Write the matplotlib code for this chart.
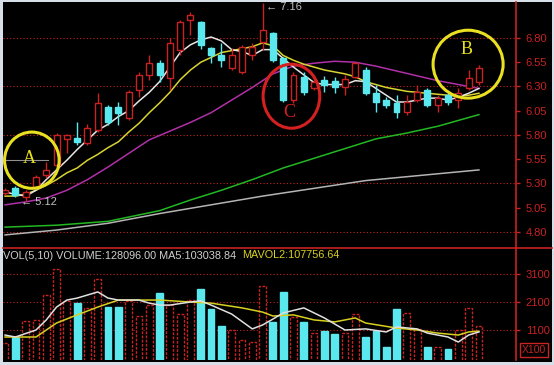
import numpy as np
import matplotlib.pyplot as plt
from matplotlib.patches import Rectangle, Ellipse
from matplotlib.lines import Line2D

plt.rcParams['font.family'] = ['Liberation Sans', 'DejaVu Sans']

# ---- candle data (47 sessions) ----
opens  = [5.20, 5.25, 5.16, 5.26, 5.39, 5.49, 5.76, 5.77, 5.72, 5.85,
          6.09, 6.09, 5.98, 6.26, 6.42, 6.54, 6.39, 6.68, 6.99, 6.96,
          6.70, 6.62, 6.49, 6.45, 6.62, 6.76, 6.85, 6.59, 6.16, 6.40,
          6.28, 6.37, 6.36, 6.29, 6.40, 6.47, 6.23, 6.16, 6.13, 6.04,
          6.16, 6.26, 6.11, 6.21, 6.16, 6.28, 6.35]
highs  = [5.25, 5.27, 5.23, 5.39, 5.52, 5.82, 5.81, 5.93, 5.91, 6.23,
          6.11, 6.14, 6.26, 6.45, 6.62, 6.57, 6.80, 6.99, 7.07, 6.98,
          6.71, 6.75, 6.70, 6.73, 6.75, 7.16, 6.86, 6.60, 6.45, 6.45,
          6.37, 6.41, 6.40, 6.42, 6.55, 6.50, 6.32, 6.19, 6.21, 6.21,
          6.32, 6.28, 6.21, 6.23, 6.28, 6.47, 6.52]
lows   = [5.18, 5.16, 5.12, 5.24, 5.36, 5.47, 5.61, 5.70, 5.70, 5.83,
          5.90, 5.90, 5.95, 6.19, 6.37, 6.35, 6.26, 6.62, 6.83, 6.69,
          6.54, 6.50, 6.47, 6.43, 6.57, 6.68, 6.55, 6.14, 6.13, 6.21,
          6.26, 6.24, 6.23, 6.21, 6.39, 6.21, 6.04, 6.08, 5.98, 6.01,
          6.14, 6.09, 6.04, 6.11, 6.08, 6.26, 6.32]
closes = [5.23, 5.18, 5.21, 5.37, 5.44, 5.80, 5.80, 5.73, 5.87, 6.13,
          5.93, 6.03, 6.24, 6.42, 6.54, 6.42, 6.75, 6.96, 7.04, 6.73,
          6.62, 6.57, 6.62, 6.71, 6.71, 6.88, 6.57, 6.16, 6.42, 6.24,
          6.35, 6.32, 6.29, 6.38, 6.54, 6.23, 6.14, 6.11, 6.04, 6.14,
          6.24, 6.11, 6.18, 6.14, 6.23, 6.39, 6.49]
# volume in hundreds of shares
volume = [640, 850, 1420, 1460, 2350, 3280, 2140, 2060, 1890, 2920,
          1920, 1920, 2140, 1600, 1990, 2420, 1990, 1670, 2170, 2560,
          1850, 1240, 1100, 740, 670, 2670, 1390, 2460, 1560, 1390,
          990, 1060, 960, 990, 1670, 850, 1060, 490, 1850, 1710,
          1140, 490, 490, 420, 1100, 1890, 1240]

# ---- moving average lines ----
ma5 = [5.21, 5.19, 5.17, 5.23, 5.34, 5.44, 5.54, 5.65, 5.75, 5.85,
       5.91, 5.99, 6.05, 6.15, 6.24, 6.35, 6.50, 6.65, 6.73, 6.78,
       6.81, 6.77, 6.68, 6.66, 6.62, 6.68, 6.68, 6.59, 6.50, 6.42,
       6.34, 6.32, 6.32, 6.32, 6.36, 6.35, 6.28, 6.21, 6.14, 6.14,
       6.16, 6.18, 6.18, 6.16, 6.19, 6.23, 6.28]
ma10 = [5.17, 5.17, 5.19, 5.23, 5.28, 5.34, 5.41, 5.46, 5.54, 5.60,
        5.67, 5.73, 5.83, 5.92, 6.03, 6.13, 6.24, 6.37, 6.47, 6.55,
        6.60, 6.65, 6.67, 6.69, 6.71, 6.75, 6.72, 6.62, 6.57, 6.53,
        6.50, 6.47, 6.45, 6.43, 6.40, 6.35, 6.32, 6.29, 6.27, 6.25,
        6.24, 6.23, 6.22, 6.21, 6.20, 6.21, 6.23]
ma20_x = [0, 2, 4, 6, 8, 10, 12, 14, 16, 18, 20, 22, 24, 26, 28, 30,
          32, 34, 36, 38, 40, 42, 44, 46]
ma20 = [5.08, 5.11, 5.15, 5.23, 5.34, 5.47, 5.61, 5.75, 5.84, 5.93,
        6.03, 6.16, 6.29, 6.43, 6.51, 6.54, 6.56, 6.55, 6.51, 6.46,
        6.41, 6.36, 6.32, 6.28]
ma60_x = [0, 5, 10, 15, 18, 21, 24, 27, 30, 33, 36, 39, 42, 46]
ma60 = [4.85, 4.87, 4.91, 5.02, 5.13, 5.23, 5.34, 5.46, 5.56, 5.66,
        5.76, 5.82, 5.89, 6.01]
ma120_x = [0, 5, 10, 15, 20, 25, 30, 35, 40, 46]
ma120 = [4.77, 4.82, 4.89, 4.99, 5.08, 5.17, 5.25, 5.33, 5.38, 5.44]

vma5_x = [0, 1, 3, 4, 5, 6, 7, 9, 10, 11, 13, 14, 15, 16, 18, 19, 20,
          22, 24, 25, 26, 27, 29, 31, 33, 35, 37, 38, 40, 41, 43, 44,
          45, 46]
vma5 = [920, 850, 1100, 1460, 1920, 2170, 2240, 2460, 2240, 2170, 2170,
        2060, 1990, 1990, 2100, 2140, 1990, 1670, 1140, 1280, 1490, 1710,
        1890, 1530, 1100, 1140, 1030, 1210, 1140, 990, 850, 670, 920, 1030]
vma10_x = [0, 3, 5, 7, 9, 11, 13, 15, 18, 20, 23, 25, 26, 28, 30, 32,
           34, 35, 38, 40, 42, 44, 45, 46]
vma10 = [850, 850, 1350, 1640, 1920, 2170, 2170, 2170, 2100, 2060, 1890,
         1740, 1600, 1640, 1460, 1390, 1530, 1350, 1170, 1100, 990, 920,
         1030, 1060]

price_ticks = [6.80, 6.55, 6.30, 6.05, 5.80, 5.55, 5.30, 5.05, 4.80]
price_grid = [6.80, 6.30, 5.80, 5.30, 4.80]
vol_ticks = [3100, 2100, 1100]

# circled zones: label, centre index, centre price, width, height, colour
zone_labels = ['A', 'C', 'B']
zone_x = [2.6, 27.8, 44.95]
zone_y = [5.54, 6.20, 6.53]
zone_w = [5.3, 5.5, 6.8]
zone_h = [0.58, 0.66, 0.70]
zone_text_y = [5.56, 6.03, 6.68]
zone_colors = ['#e8e020', '#d42020', '#e8e020']

RED = '#c82222'
CYAN = '#5ae8ee'
W, H = 554, 365

def box(x0, y0, x1, y1):
    return [x0 / W, 1 - y1 / H, (x1 - x0) / W, (y1 - y0) / H]

fig = plt.figure(figsize=(5.54, 3.65), dpi=100)
fig.patch.set_facecolor('#d6dee8')
fig.add_artist(Rectangle((3 / W, 1 - 362 / H), 549 / W, 360 / H,
                         transform=fig.transFigure, facecolor='black',
                         edgecolor='none', zorder=0))

ax = fig.add_axes(box(3, 2, 516, 248))
axv = fig.add_axes(box(3, 248, 516, 360), sharex=ax)
for a in (ax, axv):
    a.set_facecolor('none')
    for s in ('top', 'left', 'bottom'):
        a.spines[s].set_visible(False)
    a.spines['right'].set_color(RED)
    a.spines['right'].set_linewidth(1.2)
    a.yaxis.tick_right()
    a.tick_params(axis='y', colors=RED, length=3, width=1, labelsize=8, pad=4)
    a.tick_params(axis='x', bottom=False, labelbottom=False)

n = len(opens)
idx = np.arange(n)
w = 0.58

# moving averages
ax.plot(ma120_x, ma120, color='#b4b4b4', lw=1.1, zorder=2)
ax.plot(ma60_x, ma60, color='#22b822', lw=1.1, zorder=2)
ax.plot(ma20_x, ma20, color='#b030a8', lw=1.1, zorder=2)
ax.plot(idx, ma10, color='#d8d430', lw=1.1, zorder=2)
ax.plot(idx, ma5, color='#e6e6e6', lw=1.1, zorder=2)

for i in range(n):
    o, h, l, c = opens[i], highs[i], lows[i], closes[i]
    if c >= o:
        ax.add_patch(Rectangle((i - w / 2, o), w, c - o, facecolor='black',
                               edgecolor=RED, lw=1, zorder=3))
        ax.vlines(i, c, h, color=RED, lw=1, zorder=3)
        ax.vlines(i, l, o, color=RED, lw=1, zorder=3)
    else:
        ax.vlines(i, l, h, color=CYAN, lw=1, zorder=3)
        ax.add_patch(Rectangle((i - w / 2, c), w, o - c, facecolor=CYAN,
                               edgecolor=CYAN, lw=1, zorder=3))

for p in price_grid:
    ax.axhline(p, color=RED, lw=0.8, ls=(0, (1, 2)), zorder=1)

ax.set_xlim(-0.2, 49.6)
ax.set_ylim(4.635, 7.171)
ax.set_yticks(price_ticks)
ax.set_yticklabels(['%.2f' % p for p in price_ticks])

# extreme value markers
ax.text(1.5, 5.11, '\u2190 5.12', color='#c0c0c0', fontsize=8,
        va='center', ha='left', zorder=5)
ax.text(25.3, 7.115, '\u2190 7.16', color='#c0c0c0', fontsize=8,
        va='center', ha='left', zorder=5)
ax.plot([-0.2, 4.2], [5.54, 5.54], color='#909090', lw=0.8, zorder=4)

for lab, cx, cy, ew, eh, ty, col in zip(zone_labels, zone_x, zone_y, zone_w,
                                         zone_h, zone_text_y, zone_colors):
    ax.add_patch(Ellipse((cx, cy), ew, eh, fill=False, edgecolor=col,
                         lw=2.2, zorder=6))
    ax.text(cx - 0.2, ty, lab, color=col, fontsize=13, ha='center',
            va='center', family='Liberation Serif', zorder=6)

# volume panel
for i in range(n):
    if closes[i] >= opens[i]:
        axv.add_patch(Rectangle((i - 0.33, 0), 0.66, volume[i], facecolor='black',
                                edgecolor=RED, lw=1, ls=(0, (2, 1)), zorder=3))
    else:
        axv.add_patch(Rectangle((i - 0.33, 0), 0.66, volume[i], facecolor=CYAN,
                                edgecolor=CYAN, lw=1, zorder=3))
axv.plot(vma10_x, vma10, color='#d8d020', lw=1.1, zorder=4)
axv.plot(vma5_x, vma5, color='#e0e0e0', lw=1.1, zorder=4)
for v in vol_ticks:
    axv.axhline(v, color=RED, lw=0.8, ls=(0, (1, 2)), zorder=1)
axv.set_ylim(29, 4029)
axv.set_yticks(vol_ticks)
axv.set_yticklabels([str(v) for v in vol_ticks])

axv.text(0.0, 0.93, 'VOL(5,10) VOLUME:128096.00 MA5:103038.84 ',
         transform=axv.transAxes, color='#d0d0d0', fontsize=7.8, va='center')
fig.text(242 / W, 1 - 255 / H, 'MAVOL2:107756.64', color='#d8d020',
         fontsize=7.8, va='center')

fig.text(534 / W, 1 - 350 / H, 'X100', color=RED, fontsize=7.5, ha='center',
         va='center', bbox=dict(boxstyle='square,pad=0.15', fc='black',
                                ec=RED, lw=1))

# panel separator across the whole frame
fig.add_artist(Line2D([3 / W, 552 / W], [1 - 248 / H, 1 - 248 / H],
                      transform=fig.transFigure, color=RED, lw=1.2))

fig.savefig('out.png', dpi=100, facecolor=fig.get_facecolor())
